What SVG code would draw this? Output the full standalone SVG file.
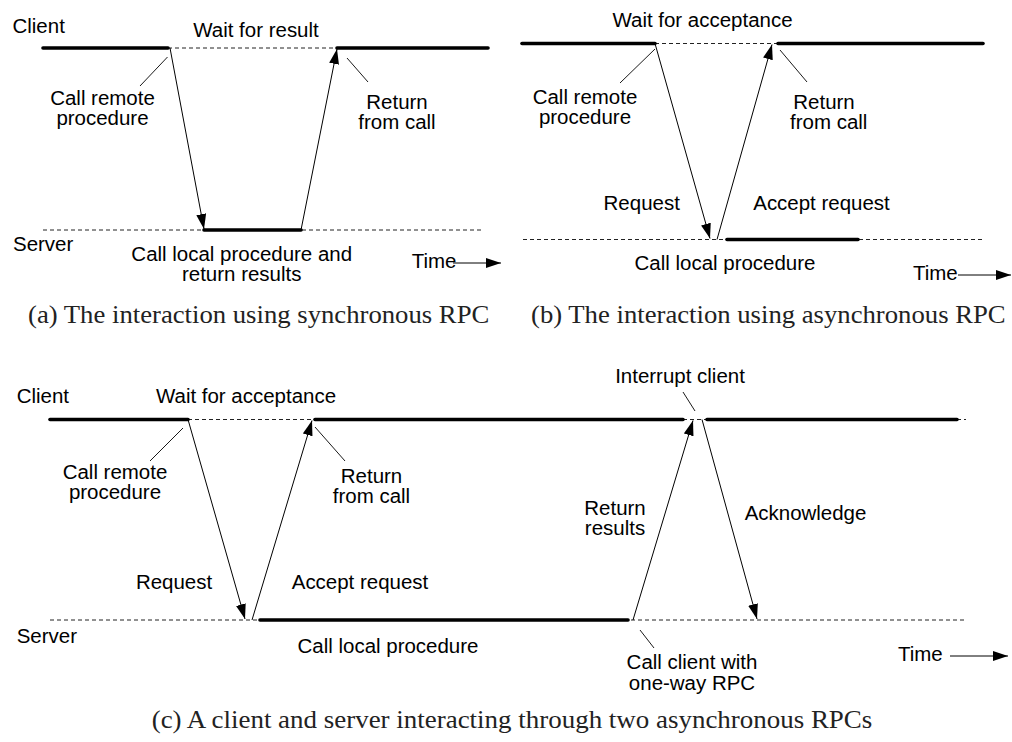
<svg xmlns="http://www.w3.org/2000/svg" width="1012" height="742" viewBox="0 0 1012 742">
<defs>
<marker id="ah" markerUnits="userSpaceOnUse" markerWidth="16" markerHeight="11" refX="15" refY="5" orient="auto">
<path d="M0,0 L15,5 L0,10 Z" fill="#000"/>
</marker>
<style>
.l{font-family:"Liberation Sans",Arial,sans-serif;font-size:19.5px;fill:#000}
.c{font-family:"Liberation Serif","Times New Roman",serif;font-size:24.5px;fill:#222}
.m{text-anchor:middle}
.thick{stroke:#000;stroke-width:3.6;stroke-linecap:round;fill:none}
.dash{stroke:#222;stroke-width:1;stroke-dasharray:4 3;fill:none}
.msg{stroke:#000;stroke-width:1;fill:none;marker-end:url(#ah)}
.lead{stroke:#000;stroke-width:0.9;fill:none}
</style>
</defs>
<rect width="1012" height="742" fill="#fff"/>

<g id="panel-a">
<g id="a-timelines">
<line class="dash" x1="168" y1="48" x2="337" y2="48"/>
<line class="thick" x1="43" y1="48" x2="168" y2="48"/>
<line class="thick" x1="337" y1="48" x2="488" y2="48"/>
<line class="dash" x1="43" y1="230" x2="483" y2="230"/>
<line class="thick" x1="204" y1="230" x2="301" y2="230"/>
</g>
<g id="a-connectors">
<line class="msg" x1="170" y1="48" x2="204" y2="229"/>
<line class="msg" x1="301" y1="230" x2="337" y2="49"/>
<line class="lead" x1="140" y1="86" x2="167.5" y2="57"/>
<line class="lead" x1="347" y1="58" x2="368" y2="82"/>
<line class="msg" x1="453" y1="263" x2="501" y2="263"/>
</g>
<g id="a-labels">
<text class="l" transform="translate(12.5,33) scale(1.05,1)">Client</text>
<text class="l m" transform="translate(256,37) scale(1.05,1)">Wait for result</text>
<text class="l m" transform="translate(102.5,105) scale(1.05,1)"><tspan x="0" y="0">Call remote</tspan><tspan x="0" y="20">procedure</tspan></text>
<text class="l m" transform="translate(397,109) scale(1.05,1)"><tspan x="0" y="0">Return</tspan><tspan x="0" y="20">from call</tspan></text>
<text class="l" transform="translate(13,251) scale(1.05,1)">Server</text>
<text class="l m" transform="translate(241.7,261) scale(1.05,1)"><tspan x="0" y="0">Call local procedure and</tspan><tspan x="0" y="20">return results</tspan></text>
<text class="l" transform="translate(411.7,268) scale(1.05,1)">Time</text>
<text class="c" transform="translate(28,323) scale(1.09,1)">(a)  The interaction using synchronous RPC</text>
</g>
</g>

<g id="panel-b">
<g id="b-timelines">
<line class="dash" x1="655" y1="43.5" x2="778" y2="43.5"/>
<line class="thick" x1="522" y1="43.5" x2="655" y2="43.5"/>
<line class="thick" x1="778" y1="43.5" x2="983" y2="43.5"/>
<line class="dash" x1="523" y1="239.5" x2="982" y2="239.5"/>
<line class="thick" x1="727" y1="239.5" x2="858" y2="239.5"/>
</g>
<g id="b-connectors">
<line class="msg" x1="655" y1="43.5" x2="710" y2="238.5"/>
<line class="msg" x1="717" y1="239.5" x2="772" y2="44.5"/>
<line class="lead" x1="655" y1="49" x2="620" y2="83"/>
<line class="lead" x1="780" y1="50" x2="807" y2="82"/>
<line class="msg" x1="958" y1="275" x2="1011" y2="275"/>
</g>
<g id="b-labels">
<text class="l m" transform="translate(702.5,27) scale(1.05,1)">Wait for acceptance</text>
<text class="l m" transform="translate(585,104) scale(1.05,1)"><tspan x="0" y="0">Call remote</tspan><tspan x="0" y="20">procedure</tspan></text>
<text class="l m" transform="translate(824,109) scale(1.05,1)"><tspan x="0" y="0">Return</tspan><tspan x="4.5" y="20">from call</tspan></text>
<text class="l m" transform="translate(641.7,210) scale(1.05,1)">Request</text>
<text class="l m" transform="translate(821.5,210) scale(1.05,1)">Accept request</text>
<text class="l m" transform="translate(725,270) scale(1.05,1)">Call local procedure</text>
<text class="l" transform="translate(913,280) scale(1.05,1)">Time</text>
<text class="c" transform="translate(531,323) scale(1.09,1)">(b)  The interaction using asynchronous RPC</text>
</g>
</g>

<g id="panel-c">
<g id="c-timelines">
<line class="dash" x1="188" y1="419.5" x2="315" y2="419.5"/>
<line class="dash" x1="683" y1="419.5" x2="707" y2="419.5"/>
<line class="dash" x1="957" y1="419.5" x2="966" y2="419.5"/>
<line class="thick" x1="50" y1="419.5" x2="188" y2="419.5"/>
<line class="thick" x1="315" y1="419.5" x2="683" y2="419.5"/>
<line class="thick" x1="707" y1="419.5" x2="957" y2="419.5"/>
<line class="dash" x1="50" y1="620" x2="965" y2="620"/>
<line class="thick" x1="260" y1="620" x2="628" y2="620"/>
</g>
<g id="c-connectors">
<line class="msg" x1="188" y1="419.5" x2="245" y2="619"/>
<line class="msg" x1="252" y1="620" x2="312" y2="420.5"/>
<line class="msg" x1="633" y1="620" x2="693" y2="420.5"/>
<line class="msg" x1="702" y1="419.5" x2="757" y2="619"/>
<line class="lead" x1="183" y1="428" x2="150" y2="461"/>
<line class="lead" x1="315" y1="427" x2="345" y2="461"/>
<line class="lead" x1="683" y1="392" x2="695" y2="411"/>
<line class="lead" x1="640" y1="630" x2="654" y2="648"/>
<line class="msg" x1="950" y1="656" x2="1008" y2="656"/>
</g>
<g id="c-labels">
<text class="l" transform="translate(16.7,402.7) scale(1.05,1)">Client</text>
<text class="l m" transform="translate(246,402.7) scale(1.05,1)">Wait for acceptance</text>
<text class="l m" transform="translate(680,383.3) scale(1.05,1)">Interrupt client</text>
<text class="l m" transform="translate(115,479) scale(1.05,1)"><tspan x="0" y="0">Call remote</tspan><tspan x="0" y="20">procedure</tspan></text>
<text class="l m" transform="translate(371.5,483) scale(1.05,1)"><tspan x="0" y="0">Return</tspan><tspan x="0" y="20">from call</tspan></text>
<text class="l m" transform="translate(615,515) scale(1.05,1)"><tspan x="0" y="0">Return</tspan><tspan x="0" y="20">results</tspan></text>
<text class="l m" transform="translate(805.5,520) scale(1.05,1)">Acknowledge</text>
<text class="l m" transform="translate(174,589) scale(1.05,1)">Request</text>
<text class="l m" transform="translate(360,589) scale(1.05,1)">Accept request</text>
<text class="l" transform="translate(16.7,643) scale(1.05,1)">Server</text>
<text class="l m" transform="translate(388,653) scale(1.05,1)">Call local procedure</text>
<text class="l m" transform="translate(692,669) scale(1.05,1)"><tspan x="0" y="0">Call client with</tspan><tspan x="0" y="21">one-way RPC</tspan></text>
<text class="l" transform="translate(898,661) scale(1.05,1)">Time</text>
<text class="c m" transform="translate(512,728) scale(1.1,1)">(c)  A client and server interacting through two asynchronous RPCs</text>
</g>
</g>
</svg>
